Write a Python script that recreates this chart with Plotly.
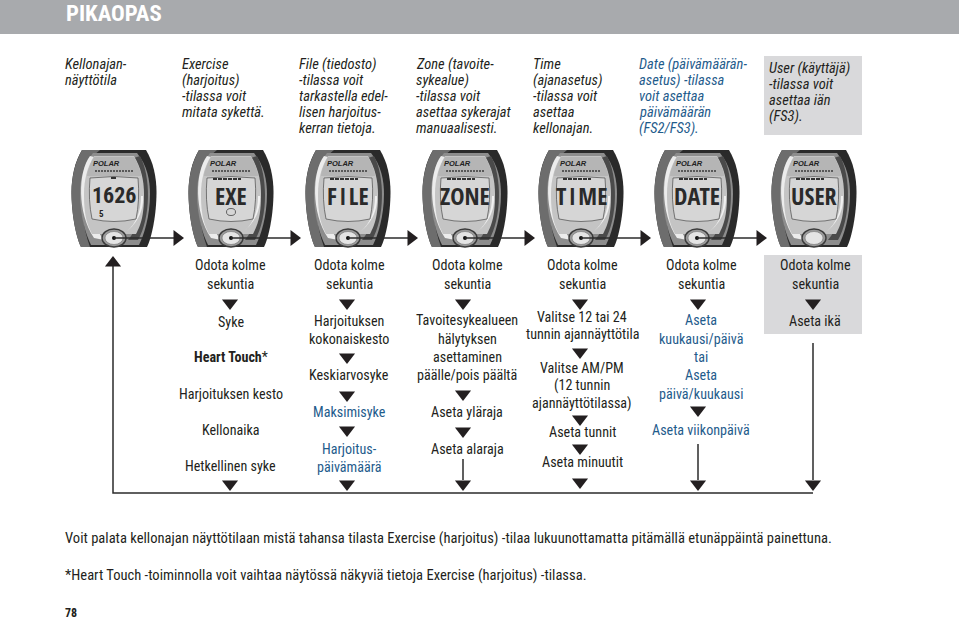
import plotly.graph_objects as go

# ---------- content ----------
INK = "#231f20"
BLUE = "#1f5c8c"
title = "PIKAOPAS"

top_x = [65, 182, 299, 416, 533, 639, 769]
top_labels = [
    ["Kellonajan-", "näyttötila"],
    ["Exercise", "(harjoitus)", "-tilassa voit", "mitata sykettä."],
    ["File (tiedosto)", "-tilassa voit", "tarkastella edel-", "lisen harjoitus-", "kerran tietoja."],
    ["Zone (tavoite-", "sykealue)", "-tilassa voit", "asettaa sykerajat", "manuaalisesti."],
    ["Time", "(ajanasetus)", "-tilassa voit", "asettaa", "kellonajan."],
    ["Date (päivämäärän-", "asetus) -tilassa", "voit asettaa", "päivämäärän", "(FS2/FS3)."],
    ["User (käyttäjä)", "-tilassa voit", "asettaa iän", "(FS3)."],
]
top_y0 = [64, 64, 64, 64, 64, 64, 68]
top_colors = [INK, INK, INK, INK, INK, BLUE, INK]

watch_x = [114, 231, 348, 465, 581, 697, 814]
watch_text = ["1626", "EXE", "F\u200aI\u200aLE", "ZONE", "T\u200aI\u200aME", "DATE", "USER"]

col_x = [230.5, 349, 467, 582, 701, 815]
col_items = [
    [("Odota kolme", 265), ("sekuntia", 284), ("Syke", 322), ("<b>Heart Touch</b>*", 357),
     ("Harjoituksen kesto", 394), ("Kellonaika", 430), ("Hetkellinen syke", 466)],
    [("Odota kolme", 265), ("sekuntia", 284), ("Harjoituksen", 321), ("kokonaiskesto", 339),
     ("Keskiarvosyke", 375), ("Maksimisyke", 412, BLUE), ("Harjoitus-", 449, BLUE), ("päivämäärä", 467, BLUE)],
    [("Odota kolme", 265), ("sekuntia", 284), ("Tavoitesykealueen", 320), ("hälytyksen", 339),
     ("asettaminen", 357), ("päälle/pois päältä", 375), ("Aseta yläraja", 412), ("Aseta alaraja", 449)],
    [("Odota kolme", 265), ("sekuntia", 284), ("Valitse 12 tai 24", 317), ("tunnin ajannäyttötila", 334),
     ("Valitse AM/PM", 368), ("(12 tunnin", 385), ("ajannäyttötilassa)", 403), ("Aseta tunnit", 432), ("Aseta minuutit", 462)],
    [("Odota kolme", 265), ("sekuntia", 284), ("Aseta", 320, BLUE), ("kuukausi/päivä", 339, BLUE), ("tai", 357, BLUE),
     ("Aseta", 375, BLUE), ("päivä/kuukausi", 394, BLUE), ("Aseta viikonpäivä", 430, BLUE)],
    [("Odota kolme", 265), ("sekuntia", 284), ("Aseta ikä", 321)],
]

down_x = [230, 230, 347, 347, 347, 347, 347, 463, 463, 463, 463, 580, 580, 580, 580, 580, 698, 698, 698, 813, 813]
down_y = [303, 484, 303, 357, 395, 430, 484, 303, 394, 431, 484, 303, 352, 419, 448, 482, 303, 410, 484, 303, 484]

stems = [(463, 459, 480), (698, 444, 480), (813, 343, 480)]

footer = [("Voit palata kellonajan näyttötilaan mistä tahansa tilasta Exercise (harjoitus) -tilaa lukuunottamatta pitämällä etunäppäintä painettuna.", 538),
          ("*Heart Touch -toiminnolla voit vaihtaa näytössä näkyviä tietoja Exercise (harjoitus) -tilassa.", 575)]
page_no = "78"

FONT = "Roboto Condensed, sans-serif"

# ---------- helpers ----------
shapes, ann = [], []


def rect(x0, y0, x1, y1, fill):
    shapes.append(dict(type="rect", x0=x0, y0=y0, x1=x1, y1=y1, fillcolor=fill, line_width=0, layer="below"))


def path(d, fill, line=None, w=0):
    shapes.append(dict(type="path", path=d, fillcolor=fill, line=dict(color=line or fill, width=w), layer="below"))


def oval(cx, cy, rx, ry, fill, line=None, w=0):
    shapes.append(dict(type="circle", x0=cx - rx, x1=cx + rx, y0=cy - ry, y1=cy + ry, fillcolor=fill,
                       line=dict(color=line or fill, width=w), layer="below"))


def text(x, y, s, size=14.1, color=INK, anchor="center", font=FONT):
    ann.append(dict(x=x, y=y, text=s, xref="x", yref="y", showarrow=False, xanchor=anchor, yanchor="middle",
                    align=anchor, borderpad=0, borderwidth=0, font=dict(family=font, size=size, color=color)))


def blob(cx, top, bot, htop, hmid, hbot, ymid):
    return (f"M{cx-htop},{top} L{cx+htop},{top} C{cx+hmid-3},{top+12} {cx+hmid},{ymid-14} {cx+hmid},{ymid} "
            f"C{cx+hmid},{ymid+22} {cx+hbot+5},{bot-10} {cx+hbot},{bot} L{cx-hbot},{bot} "
            f"C{cx-hbot-5},{bot-10} {cx-hmid},{ymid+22} {cx-hmid},{ymid} C{cx-hmid},{ymid-14} {cx-htop-(hmid-htop)+3},{top+12} {cx-htop},{top} Z")


def watch(cx, label, has_dot):
    path(blob(cx, 150, 247, 32, 42.5, 33, 192), "#2a2a2a")
    # left lighter strap shading
    path(f"M{cx-32},150 L{cx-14},150 C{cx-34},165 {cx-38},205 {cx-24},247 L{cx-33},247 C{cx-38},237 {cx-42.5},214 {cx-42.5},192 C{cx-42.5},178 {cx-39},162 {cx-32},150 Z", "#6d6d6d")
    path(blob(cx + 1, 153, 245, 22, 35, 24, 194), "#8d8d8d")
    path(f"M{cx-24},156 C{cx-36},172 {cx-37},212 {cx-20},238 L{cx-10},240 C{cx-26},220 {cx-30},176 {cx-16},158 Z", "#ececec")
    path(f"M{cx+20},158 C{cx+34},180 {cx+32},218 {cx+14},240 L{cx+24},240 C{cx+37},218 {cx+37},176 {cx+26},156 Z", "#4a4a4a")
    path(blob(cx, 156, 234, 20, 30, 22, 194), "#c4c4c4")
    path(f"M{cx-20},157 L{cx+20},157 C{cx+24},164 {cx+27},172 {cx+27},176 L{cx-27},176 C{cx-27},172 {cx-24},164 {cx-20},157 Z", "#b5b5b5")
    # bright crescent at the lower right of the face
    path(f"M{cx+27},196 C{cx+27},212 {cx+22},224 {cx+12},232 C{cx+20},226 {cx+30},214 {cx+29},196 Z", "#f0f0f0")
    # screen
    shapes.append(dict(type="path",
                       path=f"M{cx-24},178 Q{cx},175 {cx+24},178 Q{cx+26},200 {cx+22},219 Q{cx},224 {cx-22},219 Q{cx-26},200 {cx-24},178 Z",
                       fillcolor="#d6d6d6", line=dict(color="#5a5a5a", width=0.8), layer="below"))
    # scale ticks
    shapes.append(dict(type="line", x0=cx - 19, x1=cx + 20, y0=171, y1=171,
                       line=dict(color="#3a3a3a", width=1.4, dash="2px 1px"), layer="below"))
    text(cx - 8, 163, "<b><i>POLAR</i></b>", size=7.5, color="#222222", font="Liberation Sans, Arial, sans-serif")
    # mode bar on the LCD
    if label == "1626":
        rect(cx - 3, 177, cx + 2, 179, "#333333")
        text(cx - 13, 214, "<b>5</b>", size=9, color="#222222", font=FONT)
        text(cx, 195.5, f"<b>{label}</b>", size=22, color="#2a2a2a", font=FONT)
    else:
        shapes.append(dict(type="line", x0=cx - 18, x1=cx + 10, y0=179, y1=179,
                           line=dict(color="#333333", width=2, dash="4px 1px"), layer="below"))
        text(cx, 195.5, f"<b>{label}</b>", size=24, color="#2a2a2a",
             font="Open Sans Condensed, Roboto Condensed, sans-serif")
    if label == "EXE":
        oval(cx, 212, 4.5, 3.5, "#d6d6d6", "#444444", 0.8)
    # button
    oval(cx, 238, 12, 9, "#9a9a9a", "#3a3a3a", 1.4)
    oval(cx, 238, 9, 6.5, "#e4e4e4", "#777777", 0.6)
    if has_dot:
        oval(cx, 238, 2, 2, "#111111")


# ---------- page ----------
rect(0, 0, 959, 34, "#a8aaad")
text(66, 13, f"<b>{title}</b>", size=22.8, color="#ffffff", anchor="left")
rect(764, 56, 862, 135, "#d9d9db")
rect(764, 255, 862, 334, "#d9d9db")

for x, lines, y0, c in zip(top_x, top_labels, top_y0, top_colors):
    for i, s in enumerate(lines):
        text(x, y0 + i * 16.2, f"<i>{s}</i>", color=c, anchor="left", size=14.5)

for i, (x, t) in enumerate(zip(watch_x, watch_text)):
    watch(x, t, i < len(watch_x) - 1)

for x, items in zip(col_x, col_items):
    for item in items:
        text(x, item[1], item[0], color=item[2] if len(item) > 2 else INK)

for s, y in footer:
    text(65, y, s, size=14.57, anchor="left")
text(65, 613, f"<b>{page_no}</b>", size=12, anchor="left")

# ---------- connector lines and arrowheads ----------
line_x, line_y = [113, 113, 813], [262, 493, 493]
for x, y0, y1 in stems:
    line_x += [None, x, x]
    line_y += [None, y0, y1]
wx = watch_x[:-1]
for x in wx:
    line_x += [None, x, x + 60]
    line_y += [None, 238, 238]

fig = go.Figure()
fig.add_trace(go.Scatter(x=line_x, y=line_y, mode="lines", line=dict(color="#2b2b2b", width=1.5),
                         hoverinfo="skip", showlegend=False))
fig.add_trace(go.Scatter(x=down_x, y=down_y, mode="markers",
                         marker=dict(symbol="triangle-down", size=14, color="#231f20", line_width=0),
                         hoverinfo="skip", showlegend=False))
fig.add_trace(go.Scatter(x=[113], y=[263], mode="markers",
                         marker=dict(symbol="triangle-up", size=14, color="#231f20", line_width=0),
                         hoverinfo="skip", showlegend=False))
fig.add_trace(go.Scatter(x=[x + 63 for x in wx], y=[238] * len(wx), mode="markers",
                         marker=dict(symbol="triangle-right", size=14, color="#231f20", line_width=0),
                         hoverinfo="skip", showlegend=False))

fig.update_layout(
    width=959, height=619, autosize=False,
    margin=dict(l=0, r=0, t=0, b=0), paper_bgcolor="#ffffff", plot_bgcolor="#ffffff",
    xaxis=dict(range=[0, 959], visible=False, fixedrange=True),
    yaxis=dict(range=[619, 0], visible=False, fixedrange=True),
    shapes=shapes, annotations=ann, showlegend=False,
)
fig.write_html("out.html", config=dict(displayModeBar=False),
               default_width=959, default_height=619,
               post_script="document.body.style.margin='0';")
